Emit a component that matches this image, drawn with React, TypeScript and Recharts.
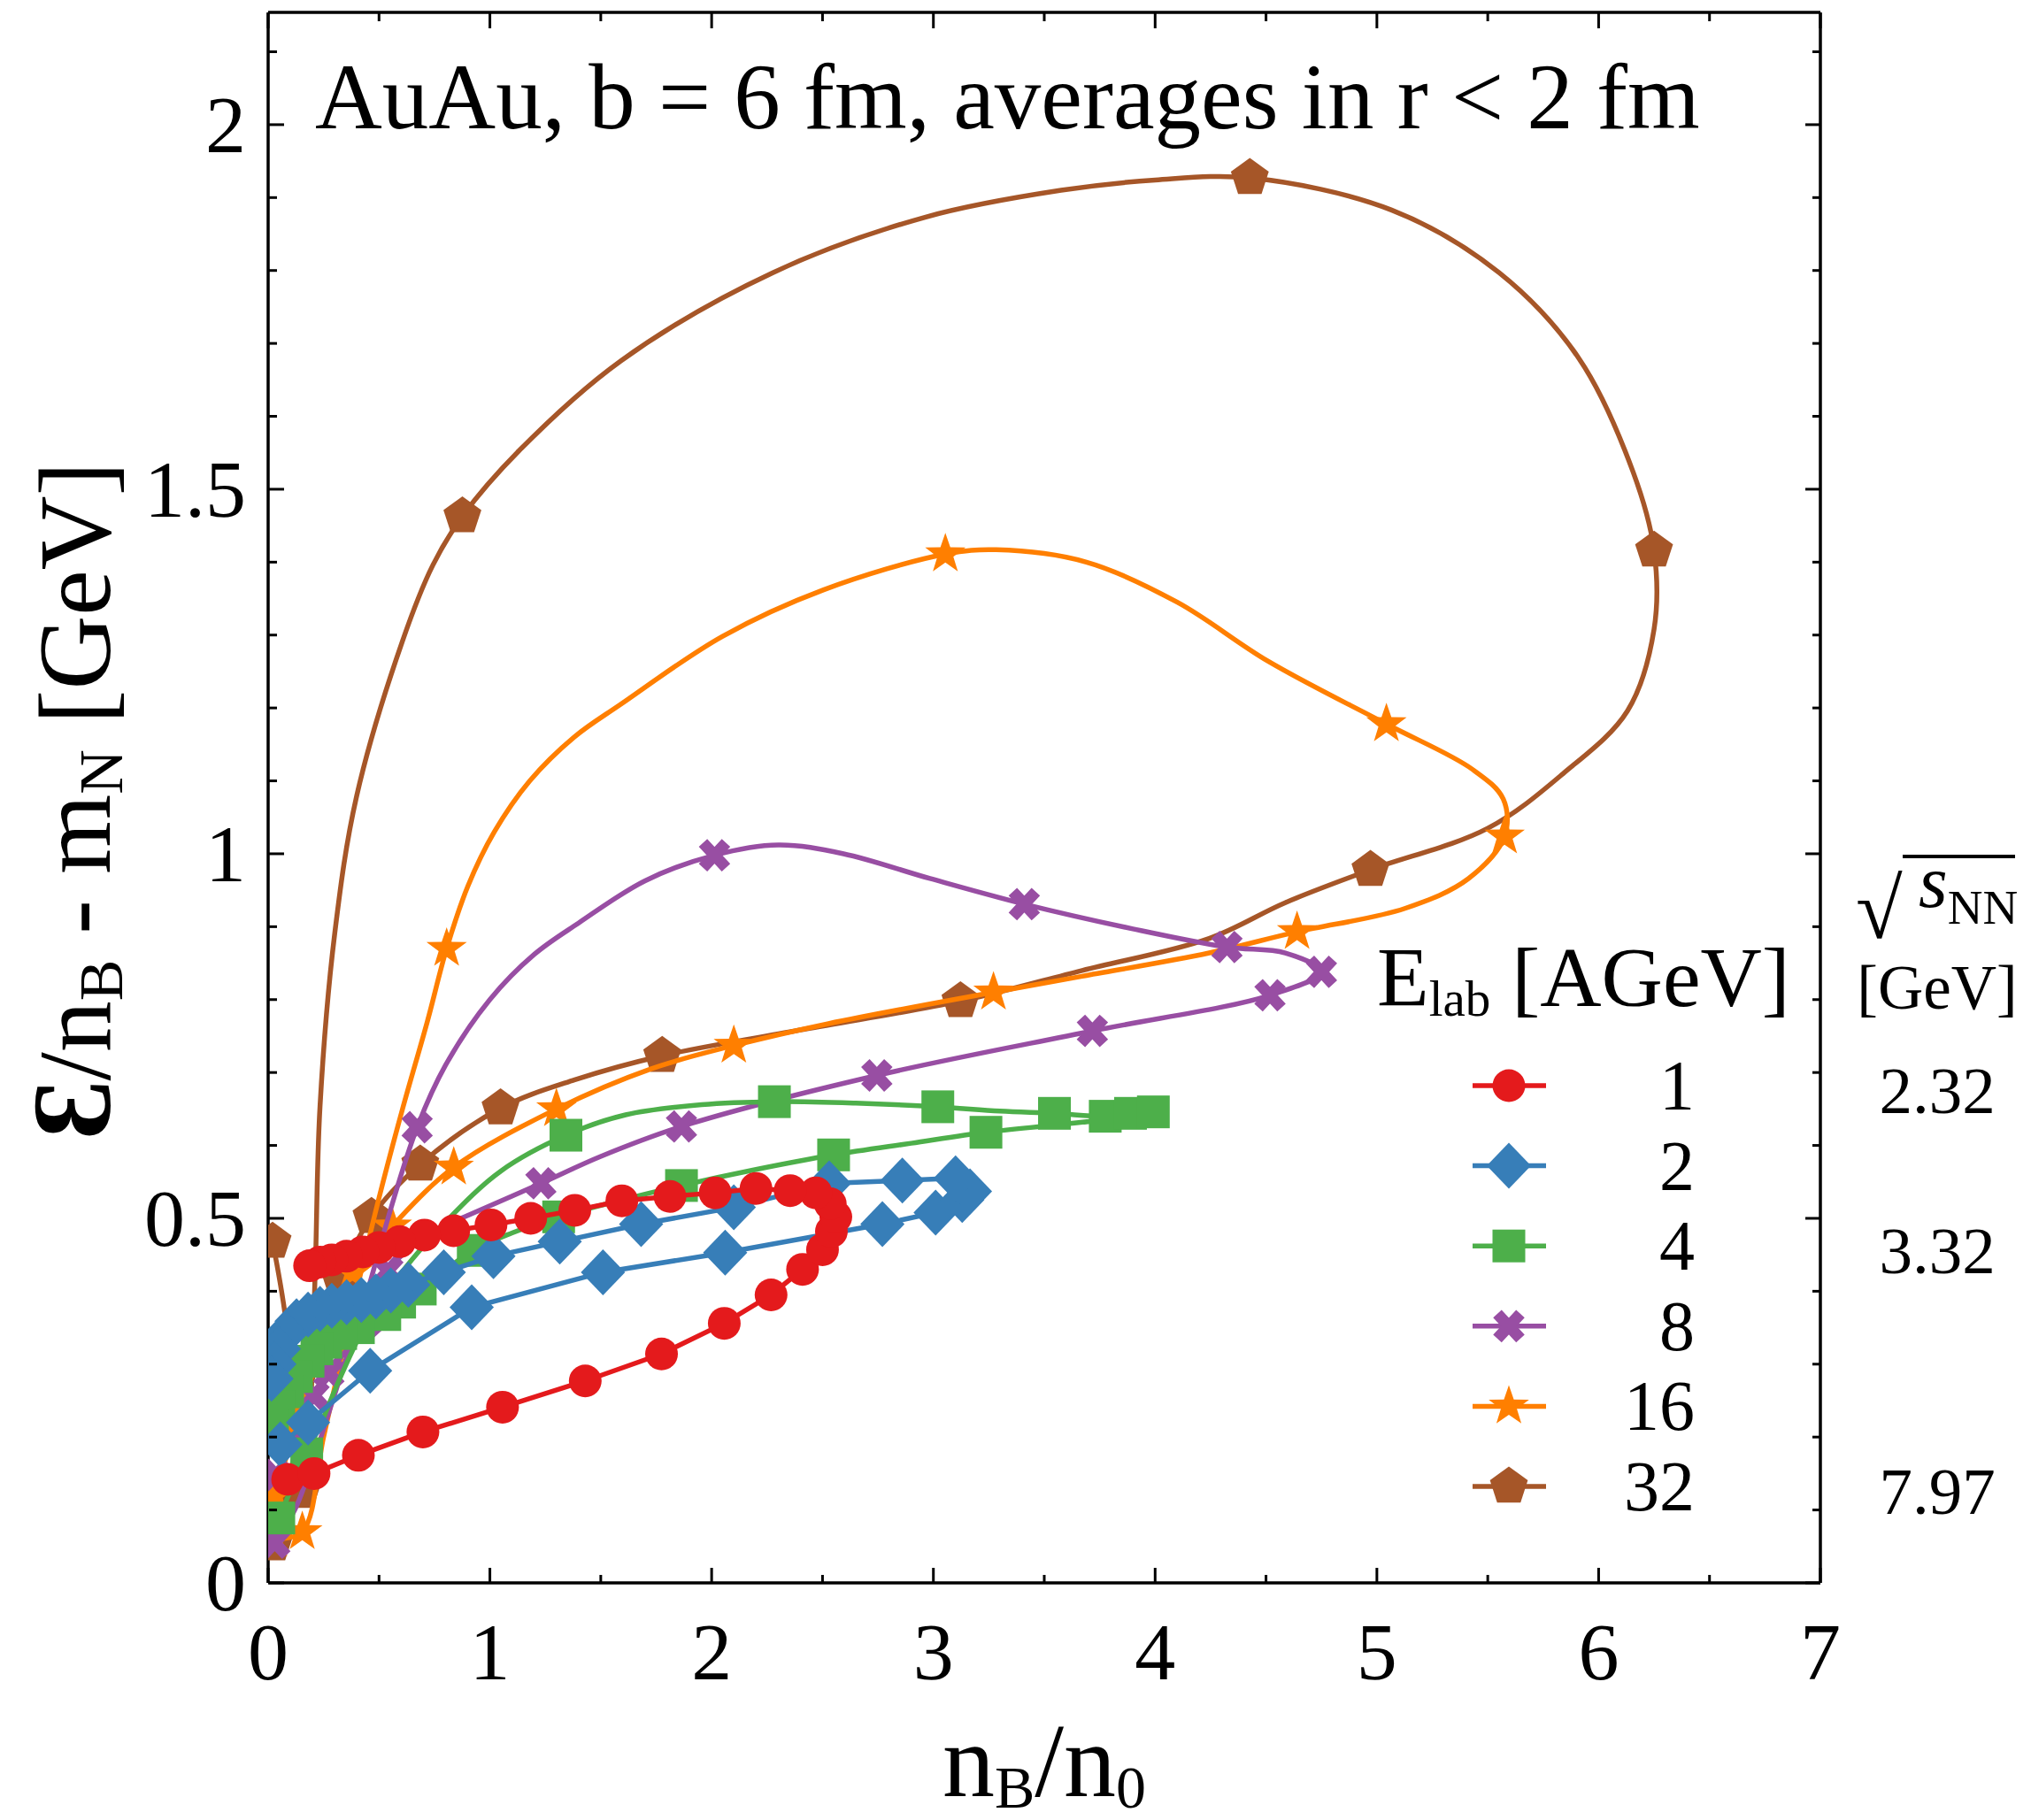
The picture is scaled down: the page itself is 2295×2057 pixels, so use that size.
import React from "react";
import { ComposedChart, Scatter, XAxis, YAxis } from "recharts";

// values: [n_B/n_0, eps/n_B - m_N]
const e1Points = [
  [0.088, 0.142], [0.207, 0.15], [0.407, 0.175], [0.698, 0.207], [1.057, 0.241], [1.43, 0.277],
  [1.774, 0.314], [2.057, 0.356], [2.268, 0.395], [2.41, 0.43], [2.5, 0.457], [2.54, 0.482],
  [2.56, 0.502], [2.535, 0.52], [2.47, 0.535], [2.354, 0.538], [2.2, 0.541], [2.016, 0.535],
  [1.812, 0.53], [1.595, 0.524], [1.383, 0.511], [1.184, 0.5], [1.005, 0.491], [0.837, 0.483],
  [0.705, 0.477], [0.593, 0.468], [0.5, 0.46], [0.427, 0.454], [0.353, 0.448], [0.287, 0.443],
  [0.234, 0.44], [0.187, 0.435],
];

const e2Points = [
  [0.055, 0.19], [0.18, 0.22], [0.46, 0.291], [0.918, 0.378], [1.51, 0.426], [2.061, 0.453],
  [2.77, 0.492], [3.01, 0.508], [3.13, 0.525], [3.165, 0.537], [3.1, 0.555], [2.86, 0.552],
  [2.53, 0.548], [2.1, 0.515], [1.682, 0.492], [1.315, 0.468], [1.016, 0.448], [0.792, 0.426],
  [0.632, 0.409], [0.553, 0.401], [0.486, 0.393], [0.42, 0.388], [0.354, 0.385], [0.287, 0.38],
  [0.234, 0.376], [0.18, 0.368], [0.128, 0.359], [0.08, 0.342], [0.048, 0.321], [0.028, 0.3],
  [0.015, 0.28],
];

const e4Path = [
  [0.048, 0.089], [0.174, 0.177], [0.24, 0.22], [0.33, 0.285], [0.45, 0.36], [0.6, 0.425],
  [0.8, 0.495], [1.05, 0.565], [1.343, 0.614], [1.612, 0.642], [1.955, 0.656], [2.283, 0.66],
  [2.65, 0.658], [3.02, 0.653], [3.3, 0.647], [3.546, 0.644], [3.775, 0.64], [3.889, 0.644],
  [3.992, 0.646], [3.85, 0.638], [3.55, 0.628], [3.237, 0.618], [2.9, 0.603], [2.55, 0.587],
  [2.2, 0.567], [1.864, 0.545], [1.58, 0.524], [1.31, 0.502], [1.1, 0.48], [0.925, 0.456],
  [0.686, 0.403], [0.593, 0.385], [0.526, 0.368], [0.407, 0.35], [0.327, 0.342], [0.26, 0.33],
  [0.22, 0.321], [0.18, 0.304], [0.128, 0.283], [0.088, 0.262], [0.048, 0.241], [0.02, 0.215],
];
const e4Marks = [
  [0.048, 0.089], [0.174, 0.177], [1.343, 0.614], [2.283, 0.66], [3.02, 0.653], [3.546, 0.644],
  [3.775, 0.64], [3.889, 0.644], [3.992, 0.646], [3.237, 0.618], [2.55, 0.587], [1.864, 0.545],
  [1.31, 0.502], [0.925, 0.456], [0.686, 0.403], [0.593, 0.385], [0.526, 0.368], [0.407, 0.35],
  [0.327, 0.342], [0.26, 0.33], [0.22, 0.321], [0.18, 0.304], [0.128, 0.283], [0.088, 0.262],
  [0.048, 0.241], [0.02, 0.215],
];

const e8Path = [
  [0.03, 0.055], [0.12, 0.1], [0.2, 0.165], [0.266, 0.226], [0.355, 0.311], [0.445, 0.397],
  [0.55, 0.51], [0.672, 0.625], [0.8, 0.71], [1.0, 0.8], [1.2, 0.862], [1.4, 0.905],
  [1.7, 0.963], [2.013, 0.998], [2.3, 1.012], [2.595, 1.0], [2.985, 0.966], [3.41, 0.931],
  [3.9, 0.897], [4.324, 0.872], [4.587, 0.864], [4.75, 0.838], [4.518, 0.806], [3.717, 0.757],
  [2.745, 0.696], [1.864, 0.626], [1.5, 0.585], [1.23, 0.548], [0.909, 0.505], [0.749, 0.483],
  [0.54, 0.428], [0.446, 0.359], [0.274, 0.288], [0.207, 0.257], [0.1, 0.19], [0.035, 0.148],
];
const e8Marks = [
  [0.03, 0.055], [0.672, 0.625], [2.013, 0.998], [3.41, 0.931], [4.324, 0.872], [4.75, 0.838],
  [4.518, 0.806], [3.717, 0.757], [2.745, 0.696], [1.864, 0.626], [1.23, 0.548], [0.54, 0.428],
  [0.446, 0.359], [0.274, 0.288], [0.207, 0.257], [0.1, 0.19], [0.035, 0.148],
];

const e16Path = [
  [0.03, 0.06], [0.154, 0.07], [0.25, 0.2], [0.367, 0.359], [0.5, 0.528], [0.606, 0.65],
  [0.718, 0.77], [0.805, 0.87], [0.9, 0.955], [1.02, 1.03], [1.18, 1.1], [1.38, 1.16],
  [1.59, 1.205], [2.048, 1.298], [2.505, 1.362], [3.054, 1.411], [3.283, 1.417], [3.69, 1.4],
  [4.1, 1.345], [4.51, 1.264], [5.043, 1.178], [5.43, 1.116], [5.57, 1.075], [5.576, 1.024],
  [5.413, 0.966], [5.126, 0.925], [4.64, 0.893], [4.244, 0.864], [3.671, 0.832], [3.271, 0.81],
  [2.527, 0.767], [2.1, 0.737], [1.726, 0.705], [1.3, 0.65], [0.837, 0.57], [0.558, 0.489],
  [0.38, 0.426], [0.25, 0.33], [0.13, 0.22], [0.03, 0.12],
];
const e16Marks = [
  [0.03, 0.06], [0.154, 0.07], [0.805, 0.87], [3.054, 1.411], [5.043, 1.178], [5.576, 1.024],
  [4.64, 0.893], [3.271, 0.81], [2.1, 0.737], [1.3, 0.65], [0.837, 0.57], [0.558, 0.489],
  [0.38, 0.426], [0.25, 0.33], [0.13, 0.22], [0.03, 0.12],
];

const e32Path = [
  [0.02, 0.468], [0.08, 0.36], [0.15, 0.125], [0.19, 0.237], [0.2, 0.306], [0.214, 0.445],
  [0.234, 0.654], [0.3, 0.89], [0.399, 1.079], [0.606, 1.292], [0.743, 1.396], [0.876, 1.463],
  [1.132, 1.553], [1.59, 1.676], [2.276, 1.797], [2.962, 1.873], [3.576, 1.91], [4.0, 1.924],
  [4.427, 1.927], [5.066, 1.883], [5.551, 1.797], [5.912, 1.679], [6.155, 1.524], [6.25, 1.416],
  [6.25, 1.308], [6.13, 1.196], [5.84, 1.11], [5.5, 1.035], [4.971, 0.978], [4.587, 0.933],
  [4.244, 0.884], [3.671, 0.84], [3.122, 0.798], [2.413, 0.759], [1.777, 0.723], [1.383, 0.69],
  [1.048, 0.651], [0.686, 0.574], [0.466, 0.502], [0.325, 0.417], [0.2, 0.28], [0.1, 0.15],
  [0.024, 0.053],
];
const e32Marks = [
  [0.02, 0.468], [0.15, 0.125], [0.876, 1.463], [4.427, 1.927], [6.25, 1.416], [4.971, 0.978],
  [3.122, 0.798], [1.777, 0.723], [1.048, 0.651], [0.686, 0.574], [0.466, 0.502], [0.325, 0.417],
  [0.024, 0.053],
];

const elabLabels = ["1", "2", "4", "8", "16", "32"];
const sqrtSLabels = ["2.32", "", "3.32", "", "", "7.97"];
const xTicks = [0, 0.5, 1, 1.5, 2, 2.5, 3, 3.5, 4, 4.5, 5, 5.5, 6, 6.5, 7];
const yTicks = [
  0, 0.1, 0.2, 0.3, 0.4, 0.5, 0.6, 0.7, 0.8, 0.9, 1, 1.1, 1.2, 1.3, 1.4, 1.5, 1.6, 1.7, 1.8, 1.9, 2, 2.1,
];

const serif = "'Liberation Serif', 'Times New Roman', serif";
const toXY = (list: number[][]) => list.map(([x, y]) => ({ x, y }));

// centripetal Catmull-Rom, fed to recharts' Curve as a d3 curve factory
function catmullRom(context: any) {
  let pts: number[][] = [];
  return {
    areaStart() {},
    areaEnd() {},
    lineStart() {
      pts = [];
    },
    point(x: number, y: number) {
      pts.push([+x, +y]);
    },
    lineEnd() {
      const n = pts.length;
      if (!n) return;
      context.moveTo(pts[0][0], pts[0][1]);
      for (let i = 0; i < n - 1; i++) {
        const p0 = pts[i === 0 ? 0 : i - 1];
        const p1 = pts[i];
        const p2 = pts[i + 1];
        const p3 = pts[i + 2 < n ? i + 2 : n - 1];
        const d1 = Math.hypot(p1[0] - p0[0], p1[1] - p0[1]);
        const d2 = Math.hypot(p2[0] - p1[0], p2[1] - p1[1]);
        const d3 = Math.hypot(p3[0] - p2[0], p3[1] - p2[1]);
        const a1 = Math.sqrt(d1);
        const a2 = Math.sqrt(d2);
        const a3 = Math.sqrt(d3);
        let c1 = p1;
        let c2 = p2;
        if (a1 > 1e-6) {
          const a = 2 * d1 + 3 * a1 * a2 + d2;
          const m = 3 * a1 * (a1 + a2);
          c1 = [(p1[0] * a - p0[0] * d2 + p2[0] * d1) / m, (p1[1] * a - p0[1] * d2 + p2[1] * d1) / m];
        }
        if (a3 > 1e-6) {
          const b = 2 * d3 + 3 * a3 * a2 + d2;
          const m = 3 * a3 * (a3 + a2);
          c2 = [(p2[0] * b + p1[0] * d3 - p3[0] * d2) / m, (p2[1] * b + p1[1] * d3 - p3[1] * d2) / m];
        }
        context.bezierCurveTo(c1[0], c1[1], c2[0], c2[1], p2[0], p2[1]);
      }
    },
  };
}

type Kind = "circle" | "diamond" | "square" | "cross" | "star" | "pentagon";

function ring(cx: number, cy: number, count: number, rOut: number, rIn?: number) {
  const total = rIn ? count * 2 : count;
  const out: string[] = [];
  for (let k = 0; k < total; k++) {
    const ang = -Math.PI / 2 + (k * 2 * Math.PI) / total;
    const r = rIn && k % 2 === 1 ? rIn : rOut;
    out.push(`${cx + r * Math.cos(ang)},${cy + r * Math.sin(ang)}`);
  }
  return out.join(" ");
}

function Marker({ kind, cx, cy, color }: { kind: Kind; cx: number; cy: number; color: string }) {
  if (cx == null || cy == null) return <g />;
  switch (kind) {
    case "circle":
      return <circle cx={cx} cy={cy} r={18.5} fill={color} />;
    case "diamond":
      return <polygon points={`${cx},${cy - 26} ${cx + 25},${cy} ${cx},${cy + 26} ${cx - 25},${cy}`} fill={color} />;
    case "square":
      return <rect x={cx - 18.5} y={cy - 18.5} width={37} height={37} fill={color} />;
    case "cross":
      return (
        <path
          d={`M${cx - 13},${cy - 14}L${cx + 13},${cy + 14}M${cx + 13},${cy - 14}L${cx - 13},${cy + 14}`}
          stroke={color}
          strokeWidth={13}
        />
      );
    case "star":
      return <polygon points={ring(cx, cy, 5, 24, 9.5)} fill={color} />;
    default:
      return <polygon points={ring(cx, cy, 5, 22.5)} fill={color} />;
  }
}

const series = [
  { id: "32", color: "#a65628", kind: "pentagon" as Kind, path: e32Path, marks: e32Marks, curve: catmullRom },
  { id: "16", color: "#ff7f00", kind: "star" as Kind, path: e16Path, marks: e16Marks, curve: catmullRom },
  { id: "8", color: "#984ea3", kind: "cross" as Kind, path: e8Path, marks: e8Marks, curve: catmullRom },
  { id: "4", color: "#4daf4a", kind: "square" as Kind, path: e4Path, marks: e4Marks, curve: catmullRom },
  { id: "2", color: "#377eb8", kind: "diamond" as Kind, path: e2Points, marks: e2Points, curve: "linear" },
  { id: "1", color: "#e41a1c", kind: "circle" as Kind, path: e1Points, marks: e1Points, curve: "linear" },
];
const legendOrder = ["1", "2", "4", "8", "16", "32"];

const isMajorY = (v: number) => Math.abs(v * 2 - Math.round(v * 2)) < 1e-9;

const xTick = (side: "bottom" | "top") => (props: any) => {
  const { x, y, payload } = props;
  const v = payload.value;
  const major = Number.isInteger(v);
  const len = major ? 17 : 9;
  const dir = side === "bottom" ? -1 : 1;
  const y0 = side === "bottom" ? y : y + 1;
  return (
    <g>
      <line x1={x} y1={y0} x2={x} y2={y0 + dir * len} stroke="#000" strokeWidth={3} />
      {side === "bottom" && major && (
        <text x={x} y={y + 109} textAnchor="middle" fontSize={92} fontFamily={serif} fill="#000">
          {v}
        </text>
      )}
    </g>
  );
};

const yTick = (side: "left" | "right") => (props: any) => {
  const { x, y, payload } = props;
  const v = payload.value;
  const major = isMajorY(v);
  const len = major ? 17 : 9;
  const dir = side === "left" ? 1 : -1;
  const x0 = side === "left" ? x + 1 : x;
  return (
    <g>
      <line x1={x0} y1={y} x2={x0 + dir * len} y2={y} stroke="#000" strokeWidth={3} />
      {side === "left" && major && (
        <text x={x0 - 26} y={y + 31} textAnchor="end" fontSize={92} fontFamily={serif} fill="#000">
          {v}
        </text>
      )}
    </g>
  );
};

const axisLine = { stroke: "#000", strokeWidth: 3.5 };

export default function App() {
  return (
    <div style={{ position: "absolute", left: 0, top: 0, width: 2295, height: 2057, background: "#fff" }}>
      <ComposedChart width={2295} height={2057} margin={{ top: 13, right: 237, bottom: 267, left: 302 }}>
        <XAxis
          type="number"
          dataKey="x"
          domain={[0, 7]}
          ticks={xTicks}
          interval={0}
          allowDataOverflow
          height={1}
          tickSize={0}
          tickMargin={0}
          tickLine={false}
          axisLine={axisLine}
          tick={xTick("bottom")}
        />
        <XAxis
          xAxisId="top"
          orientation="top"
          type="number"
          dataKey="x"
          domain={[0, 7]}
          ticks={xTicks}
          interval={0}
          allowDataOverflow
          height={1}
          tickSize={0}
          tickMargin={0}
          tickLine={false}
          axisLine={axisLine}
          tick={xTick("top")}
        />
        <YAxis
          type="number"
          dataKey="y"
          domain={[0, 2.154]}
          ticks={yTicks}
          interval={0}
          allowDataOverflow
          width={1}
          tickSize={0}
          tickMargin={0}
          tickLine={false}
          axisLine={axisLine}
          tick={yTick("left")}
        />
        <YAxis
          yAxisId="right"
          orientation="right"
          type="number"
          dataKey="y"
          domain={[0, 2.154]}
          ticks={yTicks}
          interval={0}
          allowDataOverflow
          width={1}
          tickSize={0}
          tickMargin={0}
          tickLine={false}
          axisLine={axisLine}
          tick={yTick("right")}
        />
        {series.flatMap((s) => [
          <Scatter
            key={`line-${s.id}`}
            data={toXY(s.path)}
            fill={s.color}
            line={{ stroke: s.color, strokeWidth: 5.5 }}
            lineJointType={s.curve as any}
            shape={() => <g />}
            isAnimationActive={false}
          />,
          <Scatter
            key={`marks-${s.id}`}
            data={toXY(s.marks)}
            fill={s.color}
            shape={(p: any) => <Marker kind={s.kind} cx={p.cx} cy={p.cy} color={s.color} />}
            isAnimationActive={false}
          />,
        ])}
      </ComposedChart>

      <svg
        width={2295}
        height={2057}
        style={{ position: "absolute", left: 0, top: 0, pointerEvents: "none" }}
        fontFamily={serif}
        fill="#000"
      >
        <text x={356} y={145} fontSize={105}>
          AuAu, b = 6 fm, averages in r &lt; 2 fm
        </text>

        <text x={1180} y={2030} textAnchor="middle" fontSize={118}>
          n<tspan fontSize={68} dy={13}>B</tspan>
          <tspan dy={-13}>/n</tspan>
          <tspan fontSize={68} dy={13}>0</tspan>
        </text>

        <text transform="translate(124 905) rotate(-90)" textAnchor="middle" fontSize={116}>
          <tspan fontSize={126} fontWeight="bold">Ɛ</tspan>
          <tspan>/n</tspan>
          <tspan fontSize={70} dy={14}>B</tspan>
          <tspan dy={-14}>{" - m"}</tspan>
          <tspan fontSize={70} dy={14}>N</tspan>
          <tspan dy={-14}>{" [GeV]"}</tspan>
        </text>

        <text x={1556} y={1137} fontSize={96}>
          E<tspan fontSize={57} dy={11}>lab</tspan>
          <tspan dy={-11}>{" [AGeV]"}</tspan>
        </text>

        {legendOrder.map((id, i) => {
          const s = series.find((d) => d.id === id)!;
          const y = 1227 + i * 90.6;
          return (
            <g key={id}>
              <line x1={1664} x2={1747} y1={y} y2={y} stroke={s.color} strokeWidth={5.5} />
              <Marker kind={s.kind} cx={1705} cy={y} color={s.color} />
              <text x={1915} y={y + 27} textAnchor="end" fontSize={80}>
                {elabLabels[i]}
              </text>
              {sqrtSLabels[i] && (
                <text x={2189} y={y + 31} textAnchor="middle" fontSize={75}>
                  {sqrtSLabels[i]}
                </text>
              )}
            </g>
          );
        })}

        <text x={2097} y={1060} fontSize={96}>
          √
        </text>
        <line x1={2150} x2={2277} y1={968} y2={968} stroke="#000" strokeWidth={4} />
        <text x={2168} y={1025} fontSize={84} fontStyle="italic">
          s<tspan fontStyle="normal" fontSize={55} dy={19}>NN</tspan>
        </text>
        <text x={2189} y={1140} textAnchor="middle" fontSize={71}>
          [GeV]
        </text>
      </svg>
    </div>
  );
}
